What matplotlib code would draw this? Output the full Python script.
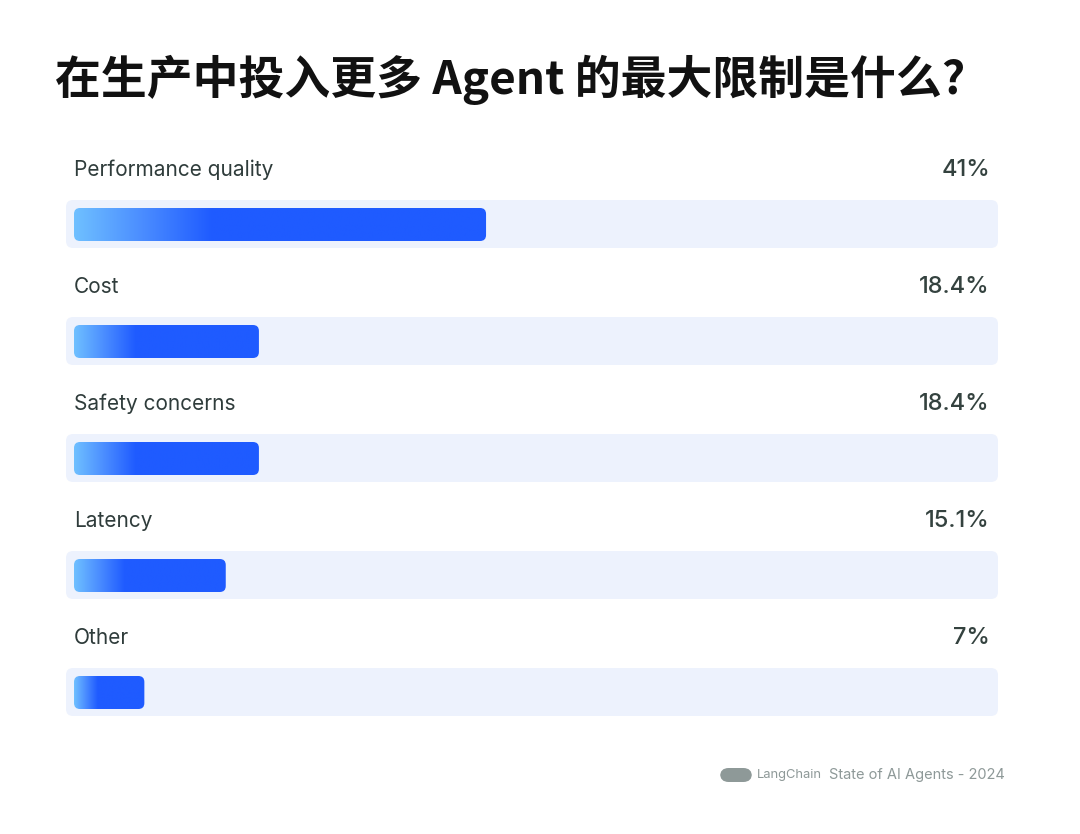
import numpy as np
import matplotlib.pyplot as plt
from matplotlib.patches import FancyBboxPatch
from matplotlib.colors import LinearSegmentedColormap

# ===== data =====
categories = ['Performance quality', 'Cost', 'Safety concerns', 'Latency', 'Other']
values = [41, 18.4, 18.4, 15.1, 7]
value_labels = ['41%', '18.4%', '18.4%', '15.1%', '7%']
title = '在生产中投入更多 Agent 的最大限制是什么?'

plt.rcParams['font.family'] = ['Inter', 'Noto Sans CJK SC', 'DejaVu Sans']

W, H = 1080, 834
fig = plt.figure(figsize=(W / 100, H / 100), dpi=100)
fig.patch.set_facecolor('white')

# axes covering the bar area (pixel box x 66..998, y 140..725)
ax = fig.add_axes([66 / W, 1 - 725 / H, (998 - 66) / W, (725 - 140) / H])
px_per_pct = 10.05
x0 = -8 / px_per_pct
ax.set_xlim(x0, x0 + 932 / px_per_pct)
ax.set_ylim(len(categories), 0)
ax.axis('off')

# data units per pixel, to keep corners round
xu = 1 / px_per_pct
yu = len(categories) / 585
aspect = yu / xu

cmap = LinearSegmentedColormap.from_list('bar', ['#6fc0ff', '#4a8cff', '#1f5bff'])
grad = np.linspace(0, 1, 256).reshape(1, -1)
grad = np.clip(grad * 3, 0, 1)  # gradient over the first third of each bar

for i, (cat, v, lab) in enumerate(zip(categories, values, value_labels)):
    # track
    track = FancyBboxPatch((ax.get_xlim()[0], i + 60 * yu), ax.get_xlim()[1] - ax.get_xlim()[0], 48 * yu,
                           boxstyle='round,pad=0,rounding_size=%f' % (7 * xu),
                           mutation_aspect=aspect, fc='#edf2fd', ec='none', zorder=1)
    ax.add_patch(track)
    # bar
    bx, by, bh = 0, i + 68 * yu, 33 * yu
    bar = FancyBboxPatch((bx, by), v, bh,
                         boxstyle='round,pad=0,rounding_size=%f' % (6 * xu),
                         mutation_aspect=aspect, fc='none', ec='none', zorder=2)
    ax.add_patch(bar)
    im = ax.imshow(grad, cmap=cmap, extent=(bx, v, by + bh, by), aspect='auto',
                   interpolation='bilinear', zorder=3)
    im.set_clip_path(bar)
    # texts
    ax.text(0, i + 30 * yu, cat, fontsize=15, color='#2f3c3b', va='center', ha='left')
    ax.text(x0 + 924 / px_per_pct, i + 30 * yu, lab, fontsize=17, color='#34423f',
            va='center', ha='right', fontweight='medium')

ax.set_xlim(x0, x0 + 932 / px_per_pct)
ax.set_ylim(len(categories), 0)

# title
fig.text(55 / W, 1 - 80 / H, title, fontsize=33, fontweight='bold', color='#111111',
         va='center', ha='left', family=['Noto Sans CJK SC', 'DejaVu Sans'])

# footer
logo = FancyBboxPatch((720 / W, 1 - 782 / H), 32 / W, 14 / H,
                      boxstyle='round,pad=0,rounding_size=0.008', transform=fig.transFigure,
                      fc='#8e9998', ec='none', mutation_aspect=W / H)
fig.patches.append(logo)
fig.text(757 / W, 1 - 775 / H, 'LangChain', fontsize=9.3, color='#8e9998', va='center', ha='left')
fig.text(1005 / W, 1 - 775 / H, 'State of AI Agents - 2024', fontsize=10.5, color='#8e9998',
         va='center', ha='right')

fig.savefig('out.png', dpi=100, facecolor='white')
